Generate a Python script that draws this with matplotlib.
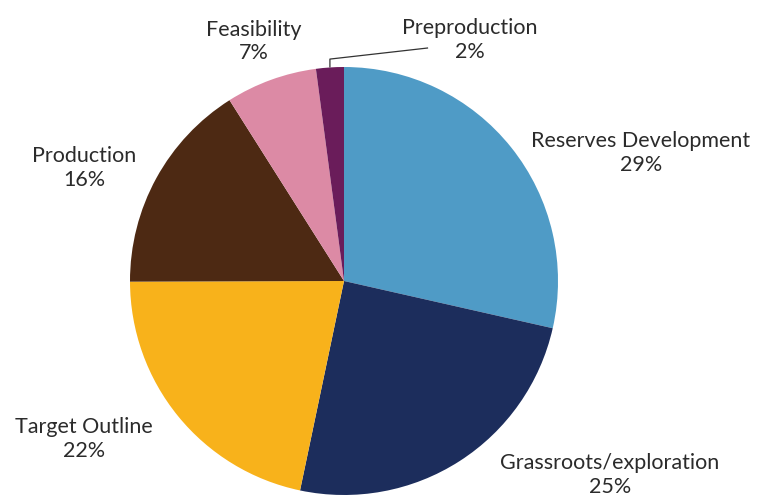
"""
Pie chart: share of projects by development stage.
"""
import numpy as np
import matplotlib
matplotlib.use('Agg')
import matplotlib.pyplot as plt

# Data (clockwise from 12 o'clock)
stages = ['Reserves Development', 'Grassroots/exploration', 'Target Outline',
          'Production', 'Feasibility', 'Preproduction']
shares = [28.6, 24.8, 21.7, 16.1, 6.9, 2.1]
pct_labels = ['29%', '25%', '22%', '16%', '7%', '2%']

colors = ['#4f9bc6', '#1c2d5c', '#f8b21b', '#4d2913', '#dc8aa5', '#6a1c5a']

# label positions in units of the pie radius (centre = 0, 0)
label_xy = [(1.388, 0.598), (1.243, -0.907), (-1.215, -0.738),
            (-1.215, 0.528), (-0.421, 1.121), (0.589, 1.126)]

W, H = 759, 497
cx, cy, R = 344, 281, 214   # pie centre and radius in pixels

fig = plt.figure(figsize=(W / 100, H / 100), dpi=100)
ax = fig.add_axes([0, 0, 1, 1])

wedges, _ = ax.pie(shares, colors=colors, startangle=90, counterclock=False,
                   radius=1, wedgeprops=dict(linewidth=0))

ax.set_xlim(-cx / R, (W - cx) / R)
ax.set_ylim(-(H - cy) / R, cy / R)
ax.axis('off')

for name, pct, (x, y) in zip(stages, pct_labels, label_xy):
    ax.text(x, y, f'{name}\n{pct}', ha='center', va='center',
            fontsize=15.5, family='Lato', color='#2b2b2b', linespacing=1.2)

# leader line for the thin Preproduction slice
w = wedges[-1]
mid = np.deg2rad((w.theta1 + w.theta2) / 2)
x0, y0 = np.cos(mid), np.sin(mid)
ax.plot([x0, x0, 0.393], [y0, 1.037, 1.089], color='#333333', lw=0.9,
        solid_capstyle='butt')

fig.savefig('out.png', dpi=100)
